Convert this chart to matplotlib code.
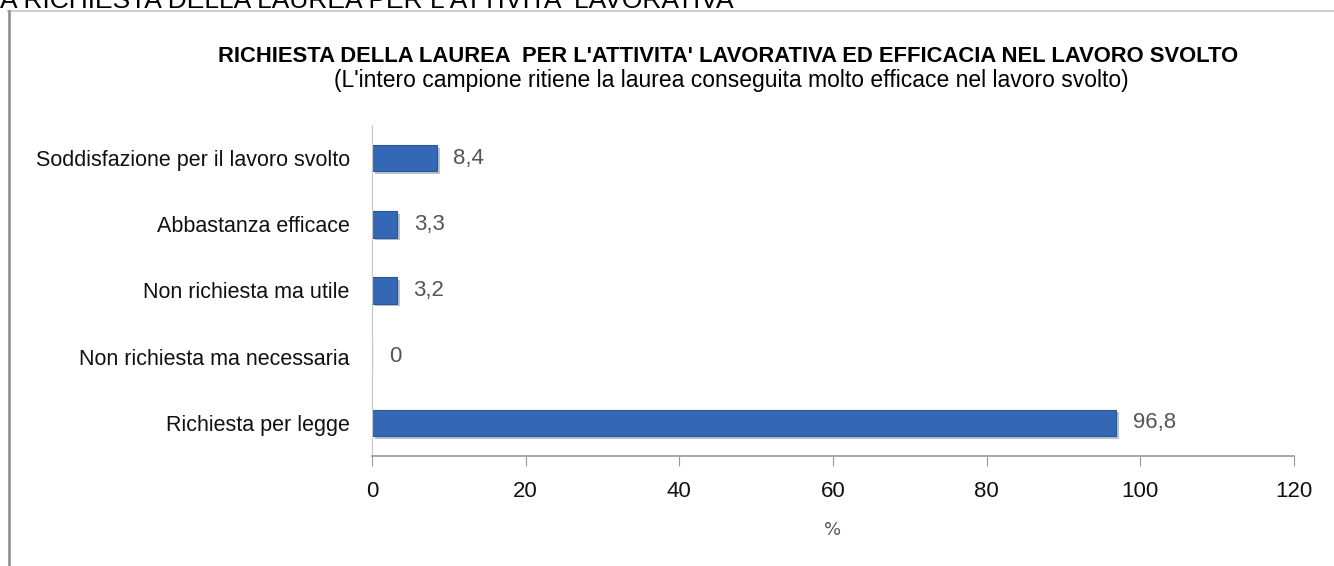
import matplotlib.pyplot as plt
from matplotlib.lines import Line2D

categories = ["Richiesta per legge", "Non richiesta ma necessaria", "Non richiesta ma utile",
              "Abbastanza efficace", "Soddisfazione per il lavoro svolto"]
values = [96.8, 0, 3.2, 3.3, 8.4]
value_labels = ["96,8", "0", "3,2", "3,3", "8,4"]
xticks = [0, 20, 40, 60, 80, 100, 120]

sans = ["Liberation Sans", "DejaVu Sans"]

W, H = 1334, 566
fig = plt.figure(figsize=(W / 100, H / 100), dpi=100)
fig.patch.set_facecolor("white")

# axes placed in pixel coordinates
left, right, top, bottom = 372, 1294, 125, 456
ax = fig.add_axes([left / W, 1 - bottom / H, (right - left) / W, (bottom - top) / H])

y = range(len(categories))
# soft shadow, then the bar
ax.barh([i - 0.04 for i in y], values, height=0.4, left=0.4, color="#b8c2d0", zorder=1)
ax.barh(y, values, height=0.4, color="#3468b5", edgecolor="#2b5797", linewidth=0.8, zorder=2)

for i, (v, lab) in enumerate(zip(values, value_labels)):
    ax.text(v + 2.2, i, lab, va="center", ha="left", fontsize=16, color="#555555", family=sans)

ax.set_xlim(0, 120)
ax.set_ylim(-0.5, len(categories) - 0.5)
ax.set_yticks(list(y))
ax.set_yticklabels(categories, fontsize=15.5, family=sans, color="#111111")
ax.set_xticks(xticks)
ax.set_xticklabels([str(t) for t in xticks], fontsize=16, family=sans, color="#111111")
ax.tick_params(axis="y", length=0, pad=16)
ax.tick_params(axis="x", length=7, color="#999999", pad=11, direction="out")
for s in ["top", "right"]:
    ax.spines[s].set_visible(False)
ax.spines["left"].set_color("#c8c8c8")
ax.spines["bottom"].set_color("#999999")
ax.spines["bottom"].set_linewidth(1.2)
ax.set_xlabel("%", fontsize=13, color="#555555", labelpad=14)

# titles
fig.text(728 / W, 1 - 57 / H, "RICHIESTA DELLA LAUREA  PER L'ATTIVITA' LAVORATIVA ED EFFICACIA NEL LAVORO SVOLTO",
         ha="center", va="center", fontsize=15.8, fontweight="bold", family=sans)
fig.text(731 / W, 1 - 81 / H,
         "(L'intero campione ritiene la laurea conseguita molto efficace nel lavoro svolto)",
         ha="center", va="center", fontsize=16.5, family=sans)

# clipped heading at the very top
fig.text(0, 1 - 8 / H, "A RICHIESTA DELLA LAUREA PER L'ATTIVITA' LAVORATIVA",
         ha="left", va="baseline", fontsize=19, family=sans)

# outer frame lines
fig.add_artist(Line2D([8 / W, 1], [1 - 11 / H, 1 - 11 / H], color="#d0d0d0", lw=1.5))
fig.add_artist(Line2D([9 / W, 9 / W], [0, 1 - 11 / H], color="#8a8a8a", lw=1.8))

fig.savefig("out.png", dpi=100)
